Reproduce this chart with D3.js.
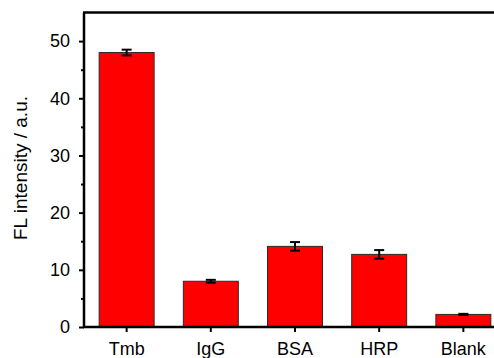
<!DOCTYPE html>
<html>
<head>
<meta charset="utf-8">
<script src="https://cdn.jsdelivr.net/npm/d3@7"></script>
<style>
  body { margin: 0; background: #fff; }
  svg { display: block; font-family: Arial, "Liberation Sans", sans-serif; }
</style>
</head>
<body>
<svg id="chart" width="494" height="358"></svg>
<script>
// data
var categories = ['Tmb', 'IgG', 'BSA', 'HRP', 'Blank'];
var values = [48.0, 8.0, 14.1, 12.7, 2.2];
var errors = [0.5, 0.25, 0.75, 0.75, 0.1];
var yTicks = [0, 10, 20, 30, 40, 50];
var yMinorTicks = [5, 15, 25, 35, 45];

var svg = d3.select('#chart');

// plot frame runs off the right edge in the original
var plotLeft = 84, plotRight = 506, plotTop = 12.5, plotBottom = 327;

var x = d3.scaleBand()
  .domain(categories)
  .range([plotLeft, plotRight])
  .paddingInner(0.347)
  .paddingOuter(0.18);

var y = d3.scaleLinear()
  .domain([0, 55])
  .range([plotBottom, plotTop]);

// bars
svg.selectAll('rect.bar')
  .data(categories)
  .enter()
  .append('rect')
  .attr('class', 'bar')
  .attr('x', function(d) { return x(d); })
  .attr('width', x.bandwidth())
  .attr('y', function(d, i) { return y(values[i]); })
  .attr('height', function(d, i) { return y(0) - y(values[i]); })
  .attr('fill', '#ff0000')
  .attr('stroke', '#2a2a2a')
  .attr('stroke-width', 1);

// error bars
var eb = svg.selectAll('g.err')
  .data(categories)
  .enter()
  .append('g')
  .attr('class', 'err')
  .attr('stroke', '#000')
  .attr('stroke-width', 2);

eb.append('line')
  .attr('x1', function(d) { return x(d) + x.bandwidth() / 2; })
  .attr('x2', function(d) { return x(d) + x.bandwidth() / 2; })
  .attr('y1', function(d, i) { return y(values[i] - errors[i]); })
  .attr('y2', function(d, i) { return y(values[i] + errors[i]); });

eb.selectAll('line.cap')
  .data(function(d, i) { return [[d, values[i] - errors[i]], [d, values[i] + errors[i]]]; })
  .enter()
  .append('line')
  .attr('class', 'cap')
  .attr('x1', function(p) { return x(p[0]) + x.bandwidth() / 2 - 5; })
  .attr('x2', function(p) { return x(p[0]) + x.bandwidth() / 2 + 5; })
  .attr('y1', function(p) { return y(p[1]); })
  .attr('y2', function(p) { return y(p[1]); });

// y axis
var yAxis = svg.append('g')
  .attr('transform', 'translate(' + plotLeft + ',0)')
  .call(d3.axisLeft(y).tickValues(yTicks).tickSize(5).tickPadding(9));

svg.append('g')
  .attr('transform', 'translate(' + plotLeft + ',0)')
  .call(d3.axisLeft(y).tickValues(yMinorTicks).tickSize(3).tickFormat(''))
  .select('.domain').remove();

// x axis
var xAxis = svg.append('g')
  .attr('transform', 'translate(0,' + plotBottom + ')')
  .call(d3.axisBottom(x).tickSize(5).tickPadding(10).tickSizeOuter(0));

svg.selectAll('.tick line').attr('stroke', '#000').attr('stroke-width', 2);
svg.selectAll('.tick text')
  .attr('fill', '#000')
  .style('font-size', '18px')
  .style('font-family', 'Arial, "Liberation Sans", sans-serif');
yAxis.select('.domain').remove();
xAxis.select('.domain').remove();

// frame lines
svg.append('line')
  .attr('x1', plotLeft).attr('x2', plotLeft)
  .attr('y1', plotTop).attr('y2', plotBottom + 1)
  .attr('stroke', '#000').attr('stroke-width', 2.5);
svg.append('line')
  .attr('x1', plotLeft - 1).attr('x2', plotRight)
  .attr('y1', plotBottom).attr('y2', plotBottom)
  .attr('stroke', '#000').attr('stroke-width', 2.5);
svg.append('line')
  .attr('x1', plotLeft - 1).attr('x2', plotRight)
  .attr('y1', plotTop).attr('y2', plotTop)
  .attr('stroke', '#000').attr('stroke-width', 2.5);

// y label
svg.append('text')
  .attr('transform', 'translate(27,168) rotate(-90)')
  .attr('text-anchor', 'middle')
  .style('font-size', '19px')
  .attr('fill', '#000')
  .text('FL intensity / a.u.');
</script>
</body>
</html>
